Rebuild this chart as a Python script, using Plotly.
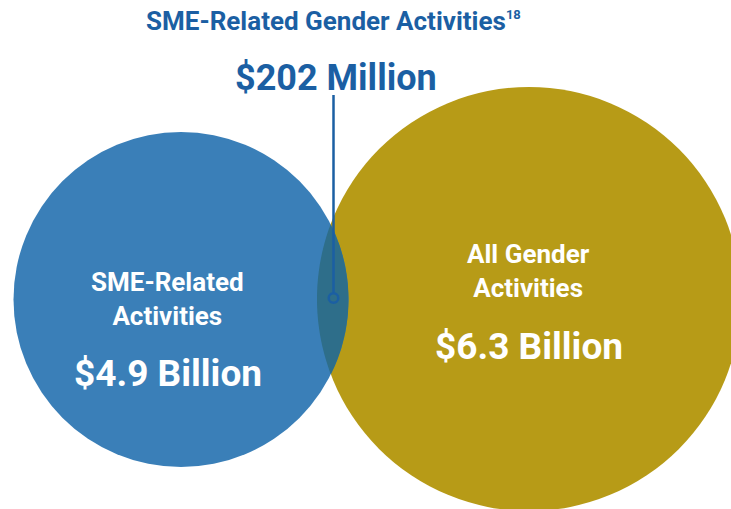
import numpy as np
import plotly.graph_objects as go

# Data
set_labels = ["SME-Related<br>Activities", "All Gender<br>Activities"]
set_values = ["$4.9 Billion", "$6.3 Billion"]
overlap_label = "SME-Related Gender Activities"
overlap_note = "18"
overlap_value = "$202 Million"

W, H = 731, 509
BLUE = "#3a7fb8"
GOLD = "#b79b17"
OVER = "#2e6e8a"
DARK = "#1b5fa3"

# Geometry (page pixel space)
c1 = (181.0, 299.5, 167.5)
c2 = (529.0, 299.0, 212.0)

fig = go.Figure()

def circ(c, color):
    x, y, r = c
    fig.add_shape(type="circle", x0=x - r, x1=x + r, y0=y - r, y1=y + r,
                  fillcolor=color, line=dict(width=0), layer="below")

circ(c2, GOLD)
circ(c1, BLUE)

# Lens (intersection)
x1, y1, r1 = c1
x2, y2, r2 = c2
d = np.hypot(x2 - x1, y2 - y1)
a = (r1**2 - r2**2 + d**2) / (2 * d)
h = np.sqrt(r1**2 - a**2)
ux, uy = (x2 - x1) / d, (y2 - y1) / d
px, py = x1 + a * ux, y1 + a * uy
pA = (px - h * uy, py + h * ux)
pB = (px + h * uy, py - h * ux)

def arc_pts(c, p_start, p_end, n):
    cx, cy, r = c
    t0 = np.arctan2(p_start[1] - cy, p_start[0] - cx)
    t1 = np.arctan2(p_end[1] - cy, p_end[0] - cx)
    dt = (t1 - t0 + np.pi) % (2 * np.pi) - np.pi
    ts = t0 + dt * np.linspace(0, 1, n)
    return [(cx + r * np.cos(t), cy + r * np.sin(t)) for t in ts]

pts = arc_pts(c1, pA, pB, 60) + arc_pts(c2, pB, pA, 60)
path = "M " + " L ".join(f"{x:.2f},{y:.2f}" for x, y in pts) + " Z"
fig.add_shape(type="path", path=path, fillcolor=OVER, line=dict(width=0), layer="below")

# Connector line and marker
lx = 333.5
fig.add_shape(type="line", x0=lx, x1=lx, y0=95, y1=292.5, line=dict(color=DARK, width=2.5))
fig.add_shape(type="circle", x0=lx - 4.8, x1=lx + 4.8, y0=298 - 4.8, y1=298 + 4.8,
              line=dict(color=DARK, width=2.5), fillcolor="rgba(0,0,0,0)")

FONT = "Roboto"
title_txt = (f"<b>{overlap_label}<sup><span style='font-size:13px'>{overlap_note}</span></sup></b>")
ann = [
    dict(x=333, y=21, text=title_txt, size=26, color=DARK),
    dict(x=336, y=78, text=f"<b>{overlap_value}</b>", size=36, color=DARK),
    dict(x=167, y=299, text=f"<b>{set_labels[0]}</b>", size=26, color="white"),
    dict(x=168, y=373, text=f"<b>{set_values[0]}</b>", size=37, color="white"),
    dict(x=528, y=271, text=f"<b>{set_labels[1]}</b>", size=26, color="white"),
    dict(x=529, y=346, text=f"<b>{set_values[1]}</b>", size=37, color="white"),
]
for a_ in ann:
    fig.add_annotation(x=a_["x"], y=a_["y"], text=a_["text"], showarrow=False,
                       xanchor="center", yanchor="middle",
                       font=dict(family=FONT, size=a_["size"], color=a_["color"]))

fig.update_xaxes(range=[0, W], visible=False, fixedrange=True)
fig.update_yaxes(range=[H, 0], visible=False, fixedrange=True)
fig.update_layout(width=W, height=H, margin=dict(l=0, r=0, t=0, b=0),
                  paper_bgcolor="white", plot_bgcolor="white", showlegend=False)

fig.write_html("out.html", config={"displayModeBar": False},
               post_script="document.body.style.margin='0';document.body.style.overflow='hidden';")
